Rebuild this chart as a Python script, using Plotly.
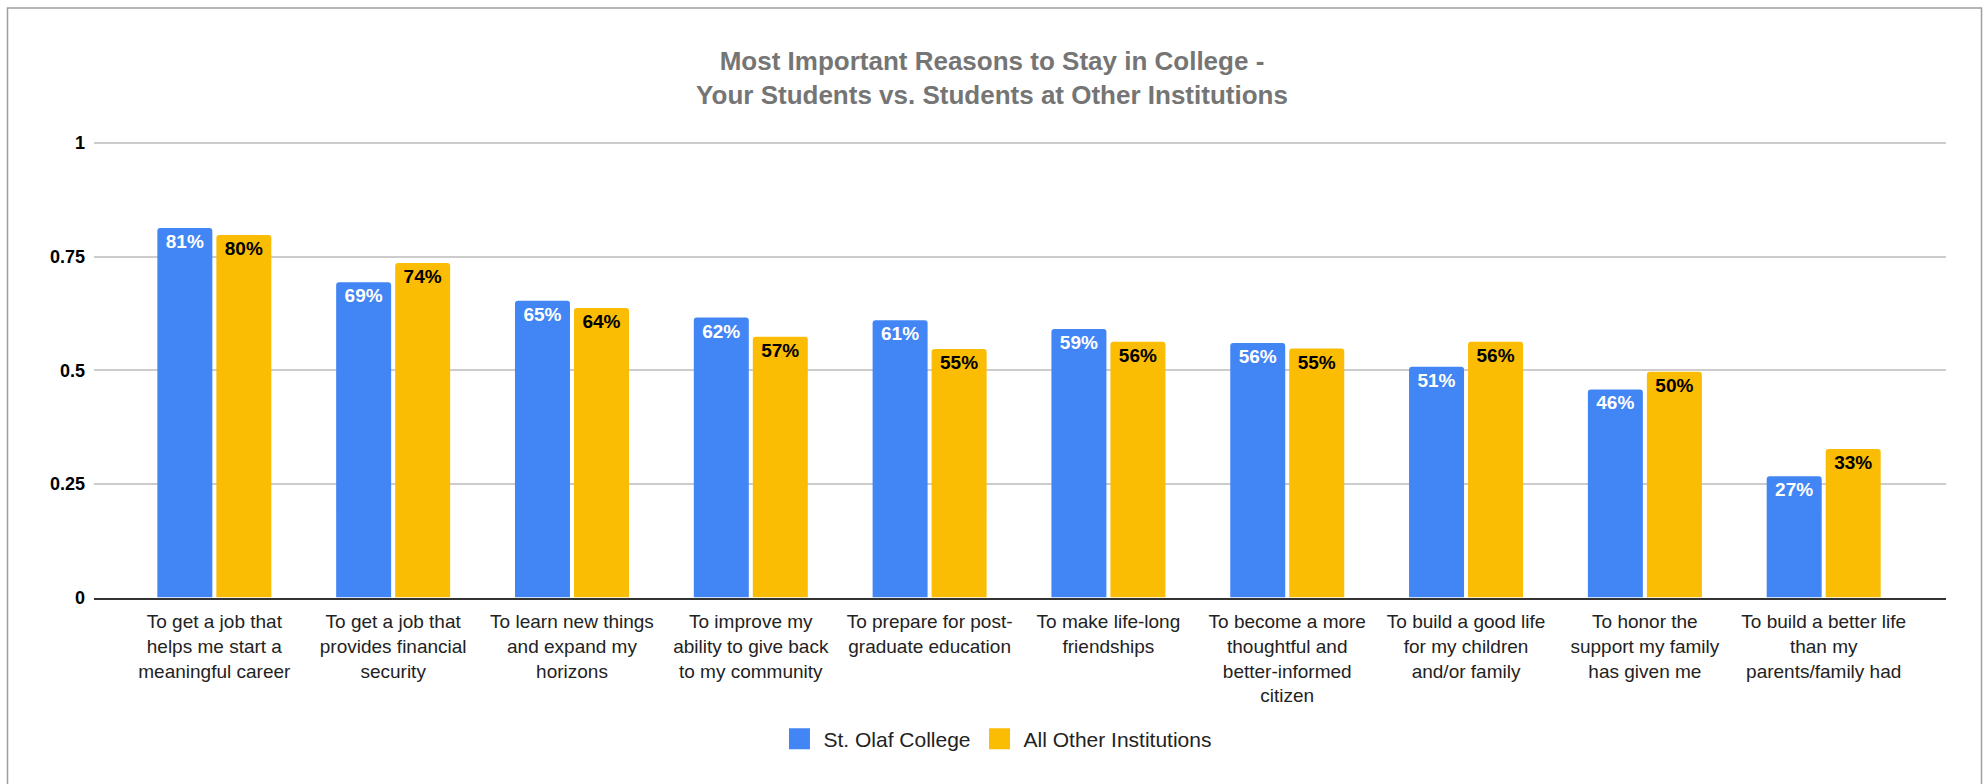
import plotly.graph_objects as go

categories = [
    "To get a job that<br>helps me start a<br>meaningful career",
    "To get a job that<br>provides financial<br>security",
    "To learn new things<br>and expand my<br>horizons",
    "To improve my<br>ability to give back<br>to my community",
    "To prepare for post-<br>graduate education",
    "To make life-long<br>friendships",
    "To become a more<br>thoughtful and<br>better-informed<br>citizen",
    "To build a good life<br>for my children<br>and/or family",
    "To honor the<br>support my family<br>has given me",
    "To build a better life<br>than my<br>parents/family had",
]
series_names = ["St. Olaf College", "All Other Institutions"]
st_olaf = [0.813, 0.694, 0.653, 0.616, 0.610, 0.591, 0.560, 0.508, 0.458, 0.267]
other = [0.798, 0.736, 0.637, 0.574, 0.547, 0.563, 0.548, 0.563, 0.497, 0.327]
y_ticks = [0, 0.25, 0.5, 0.75, 1]
y_tick_text = ["0", "0.25", "0.5", "0.75", "1"]

FONT = "Arial, 'Liberation Sans', sans-serif"
BLUE = "#4285F4"
YELLOW = "#FBBC04"
colors = [BLUE, YELLOW]
label_colors = ["#ffffff", "#000000"]

x_idx = list(range(len(categories)))

fig = go.Figure()
for name, vals, col, lc in zip(series_names, [st_olaf, other], colors, label_colors):
    fig.add_trace(go.Bar(
        x=x_idx, y=vals, name=name, showlegend=False,
        marker=dict(color=col, cornerradius=3, line=dict(width=0)),
        texttemplate="%{y:.0%}", textposition="inside", insidetextanchor="end",
        textangle=0, constraintext="none",
        textfont=dict(color=lc, size=19, family=FONT, weight="bold"),
    ))
# legend entries (larger square swatches)
for i, (name, col) in enumerate(zip(series_names, colors)):
    fig.add_trace(go.Scatter(
        x=[None], y=[None], name=name, mode="markers", legendgroup=f"g{i}",
        marker=dict(symbol="square", size=16, color=col, line=dict(color=col, width=5)),
        hoverinfo="skip",
    ))

# plot-area pixel geometry
W, H = 1984, 784
L, R, T, B = 94, 38, 134, 185
pw, ph = W - L - R, H - T - B

def px_x(px):
    return (px - L) / pw

def px_y(py):
    return (H - B - py) / ph

fig.update_layout(
    width=W, height=H, autosize=False,
    margin=dict(l=L, r=R, t=T, b=B, pad=0),
    paper_bgcolor="#ffffff", plot_bgcolor="#ffffff",
    font=dict(family=FONT, color="#222222"),
    barmode="group", bargap=0.34, bargroupgap=0.068,
    title=dict(
        text="Most Important Reasons to Stay in College -<br>Your Students vs. Students at Other Institutions",
        xref="container", x=0.5, xanchor="center",
        yref="container", y=1 - 70 / H, yanchor="middle",
        font=dict(size=26, color="#757575", family=FONT, weight="bold"),
    ),
    xaxis=dict(
        tickmode="array", tickvals=x_idx, ticktext=categories,
        range=[-0.673, 9.684],
        showgrid=False, showline=True, linecolor="#333333", linewidth=2,
        ticks="", tickfont=dict(size=19, color="#222222", family=FONT),
        ticklabelstandoff=6, tickangle=0,
    ),
    yaxis=dict(
        range=[0, 1.02], tickmode="array", tickvals=y_ticks, ticktext=y_tick_text,
        showgrid=True, gridcolor="#cccccc", gridwidth=1.5,
        zeroline=False, showline=False, ticks="",
        tickfont=dict(size=18, color="#000000", family=FONT, weight="bold"),
        ticklabelstandoff=8,
    ),
    legend=dict(
        orientation="h", xref="container", x=0.502, xanchor="center",
        yref="container", y=1 - 739 / H, yanchor="middle",
        font=dict(size=21, color="#222222", family=FONT),
        itemsizing="trace", itemwidth=38, tracegroupgap=14,
    ),
    showlegend=True,
    shapes=[dict(
        type="rect", xref="paper", yref="paper",
        x0=px_x(7.5), x1=px_x(1981.5), y0=px_y(795), y1=px_y(7.5),
        line=dict(color="#9e9e9e", width=1.5), fillcolor="rgba(0,0,0,0)", layer="above",
    )],
)

fig.write_html(
    "out.html",
    config={"displayModeBar": False},
    post_script="document.body.style.margin='0';document.body.style.overflow='hidden';",
)
